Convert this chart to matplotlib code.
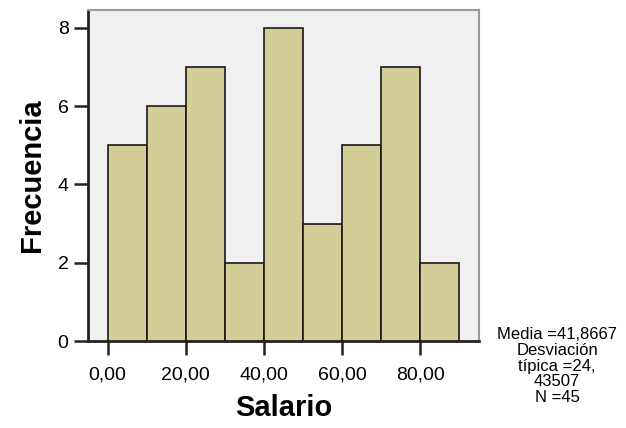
import matplotlib
matplotlib.use("Agg")
import matplotlib.pyplot as plt

bin_edges = [0, 10, 20, 30, 40, 50, 60, 70, 80, 90]
counts = [5, 6, 7, 2, 8, 3, 5, 7, 2]
xticks = [0, 20, 40, 60, 80]
xtick_labels = ["0,00", "20,00", "40,00", "60,00", "80,00"]
yticks = [0, 2, 4, 6, 8]
stats_text = "Media =41,8667\nDesviación\ntípica =24,\n43507\nN =45"

plt.rcParams['font.family'] = ['Liberation Sans', 'DejaVu Sans']

fig = plt.figure(figsize=(6.26, 4.28), dpi=100)
ax = fig.add_axes([88/626, 1 - 341/428, (479-88)/626, (341-10)/428])
ax.set_facecolor("#f0f0f0")

lefts = bin_edges[:-1]
widths = [b - a for a, b in zip(bin_edges[:-1], bin_edges[1:])]
ax.bar(lefts, counts, width=widths, align='edge', color="#d3cd97",
       edgecolor="#1a1a1a", linewidth=1.2, zorder=3)

ax.set_xlim(-5, 95)
ax.set_ylim(0, 8.46)
ax.set_xticks(xticks)
ax.set_xticklabels(xtick_labels, fontsize=14)
ax.set_yticks(yticks)
ax.set_yticklabels([str(v) for v in yticks], fontsize=14)
ax.tick_params(axis='both', direction='out', length=10, width=1.8, color="#222222")
ax.tick_params(axis='y', pad=4)
ax.tick_params(axis='x', pad=8)

for s in ['left', 'bottom']:
    ax.spines[s].set_color("#222222")
    ax.spines[s].set_linewidth(2)
for s in ['top', 'right']:
    ax.spines[s].set_color("#9a9a9a")
    ax.spines[s].set_linewidth(1.5)

ax.set_xlabel("Salario", fontsize=21, fontweight='bold', labelpad=8)
ax.set_ylabel("Frecuencia", fontsize=21, fontweight='bold', labelpad=8)

fig.text(557/626, 1 - 366/428, stats_text, ha='center', va='center',
         fontsize=12, linespacing=1.08)

fig.savefig("out.png", dpi=100)
